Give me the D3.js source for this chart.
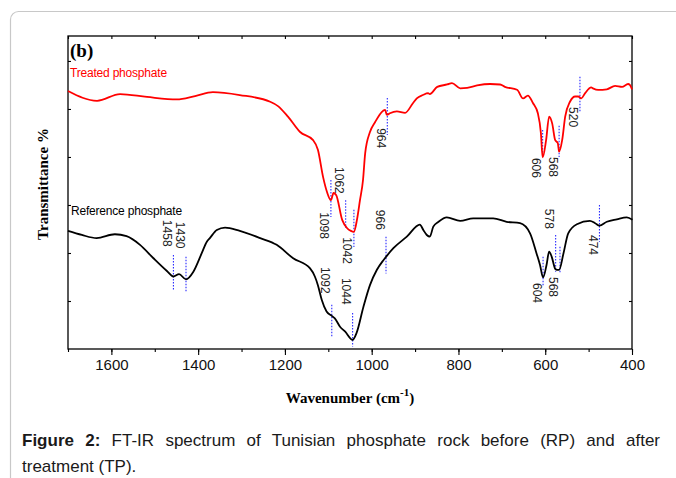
<!DOCTYPE html>
<html>
<head>
<meta charset="utf-8">
<title>FT-IR spectrum</title>
<script src="https://cdn.jsdelivr.net/npm/d3@7/dist/d3.min.js"></script>
<style>
  body { margin: 0; background: #fff; }
  svg { display: block; }
  .tick text { font-family: Arial, "Liberation Sans", sans-serif; }
</style>
</head>
<body>
<svg id="chart" width="676" height="478"></svg>
<script>
// wavenumber (cm-1) and transmittance (arbitrary units, curves offset)
const treatedWavenumber = [1700,1633,1580,1518,1449,1407,1366,1304,1234,1216,1193,1165,1135,1124,1112,1103,1094,1088,1082,1068,1057,1048,1041,1034,1027,1020,1015,1004,992,974,969,965,958,942,923,905,896,882,870,866,849,826,815,796,780,757,727,704,693,665,651,640,628,617,610,606,598,591,584,577,571,568,561,554,543,531,524,517,508,494,490,478,458,439,423,409,405,400];
const treatedTransmittance = [53.75,51.7,53.1,52.5,52.0,52.7,53.5,52.9,51.5,50.6,48.4,45.2,43.5,41.5,35.8,32.7,31.0,32.5,32.1,26.9,25.2,24.6,24.4,26.9,31.0,35.2,40.8,45.2,47.3,49.6,49.8,48.75,49.1,49.5,49.2,51.2,52.2,52.9,53.3,53.1,54.6,55.1,55.4,54.3,54.4,54.9,55.2,55.1,54.6,54.0,52.2,52.8,51.2,49.1,45.0,39.9,43.5,48.4,47.0,43.5,42.9,41.1,43.5,48.4,51.5,52.6,52.6,52.2,53.3,54.5,54.3,53.96,54.1,54.8,54.6,55.2,55.0,54.1];

const referenceWavenumber = [1700,1668,1634,1592,1565,1534,1503,1472,1457,1444,1428,1411,1392,1380,1373,1357,1338,1304,1257,1219,1181,1142,1131,1124,1115,1104,1092,1085,1073,1061,1044,1035,1019,1004,988,973,967,950,919,889,881,873,866,858,846,827,796,766,720,689,658,635,620,612,605,597,591,585,577,573,568,558,547,527,497,485,475,458,435,412,399];
const referenceTransmittance = [24.6,23.75,23.1,23.9,23.5,21.7,18.9,16.25,15.1,15.6,14.5,16.1,19.9,22.35,23.1,24.8,25.3,24.6,23.1,21.7,18.9,16.8,15.1,13.3,10.2,7.8,6.9,6.4,4.65,3.6,1.9,3.3,8.8,13.3,16.5,18.5,19.2,21.0,23.4,25.9,24.8,23.75,23.4,25.5,26.5,27.4,26.7,27.2,27.2,26.5,26.2,24.1,19.9,17.5,14.9,17.5,20.3,19.2,16.7,16.5,16.5,19.9,24.1,26.0,26.7,26.2,25.7,26.5,27.0,27.4,26.9];

// band annotations: label, wavenumber of the dotted line, line extent and label start (transmittance units)
const treatedBands = [
  {label: "1098", wn: 1094, from: 35.2, to: 27.5, text: 28.5},
  {label: "1062", wn: 1060, from: 31.0, to: 25.2, text: 37.9},
  {label: "1042", wn: 1041, from: 29.0, to: 21.25, text: 23.3},
  {label: "964",  wn: 964,  from: 52.3, to: 44.6, text: 46.0},
  {label: "606",  wn: 606,  from: 45.6, to: 40.0, text: 39.8},
  {label: "568",  wn: 568,  from: 46.5, to: 40.0, text: 40.0},
  {label: "520",  wn: 520,  from: 56.7, to: 49.2, text: 50.4}
];
const referenceBands = [
  {label: "1458", wn: 1457, from: 19.6, to: 12.1, text: 26.9},
  {label: "1430", wn: 1428, from: 19.2, to: 11.7, text: 26.5},
  {label: "1092", wn: 1092, from: 9.2,  to: 2.6,  text: 17.1},
  {label: "1044", wn: 1044, from: 7.5,  to: 0.5,  text: 14.8},
  {label: "966",  wn: 967,  from: 23.4, to: 15.75, text: 29.0},
  {label: "604",  wn: 605,  from: 19.2, to: 13.0, text: 13.75},
  {label: "578",  wn: 576,  from: 23.75, to: 16.1, text: 29.2},
  {label: "568",  wn: 566,  from: 21.3, to: 15.75, text: 15.0},
  {label: "474",  wn: 475,  from: 30.0, to: 22.35, text: 23.75}
];

const xTicks = [1600, 1400, 1200, 1000, 800, 600, 400];
const xMinorTicks = d3.range(1700, 399, -100);
const yTicks = [10, 20, 30, 40, 50, 60];

const svg = d3.select("#chart");
const plotLeft = 68, plotRight = 632, plotTop = 36, plotBottom = 349;

// card frame
svg.append("rect")
  .attr("x", 10.5).attr("y", 11.5)
  .attr("width", 700).attr("height", 500)
  .attr("rx", 8)
  .attr("fill", "none")
  .attr("stroke", "#c8c8c8")
  .attr("stroke-width", 1.2);

const x = d3.scaleLinear().domain([1700, 400]).range([plotLeft, plotRight]);
const y = d3.scaleLinear().domain([0, 65.2]).range([plotBottom, plotTop]);

// axes
svg.append("g")
  .attr("transform", `translate(0,${plotBottom})`)
  .call(d3.axisBottom(x).tickValues(xMinorTicks).tickSize(3).tickFormat(""))
  .call(g => g.select(".domain").remove());
svg.append("g")
  .attr("transform", `translate(0,${plotBottom})`)
  .call(d3.axisBottom(x).tickValues(xTicks).tickSize(6).tickPadding(4).tickFormat(d3.format("d")))
  .call(g => g.select(".domain").remove())
  .call(g => g.selectAll("text").attr("font-size", 15).attr("fill", "#111"));
svg.append("g")
  .attr("transform", `translate(0,${plotTop})`)
  .call(d3.axisTop(x).tickValues(xMinorTicks).tickSize(-3).tickFormat(""))
  .call(g => g.select(".domain").remove());
svg.append("g")
  .attr("transform", `translate(${plotLeft},0)`)
  .call(d3.axisLeft(y).tickValues(yTicks).tickSize(-3).tickFormat(""))
  .call(g => g.select(".domain").remove());
svg.append("g")
  .attr("transform", `translate(${plotRight},0)`)
  .call(d3.axisRight(y).tickValues(yTicks).tickSize(-3).tickFormat(""))
  .call(g => g.select(".domain").remove());
svg.selectAll(".tick line").attr("stroke", "#000").attr("stroke-width", 1.1);

svg.append("rect")
  .attr("x", plotLeft).attr("y", plotTop)
  .attr("width", plotRight - plotLeft).attr("height", plotBottom - plotTop)
  .attr("fill", "none")
  .attr("stroke", "#000")
  .attr("stroke-width", 1.3);

// spectra
const line = d3.line()
  .x(d => x(d[0]))
  .y(d => y(d[1]))
  .curve(d3.curveMonotoneX);

function drawBands(bands) {
  const g = svg.append("g");
  g.selectAll("line").data(bands).enter().append("line")
    .attr("x1", d => x(d.wn)).attr("x2", d => x(d.wn))
    .attr("y1", d => y(d.from)).attr("y2", d => y(d.to))
    .attr("stroke", "#2a2aff")
    .attr("stroke-width", 1.1)
    .attr("stroke-dasharray", "1.5,1.5");
  g.selectAll("text").data(bands).enter().append("text")
    .attr("transform", d => `translate(${x(d.wn) - 10.5},${y(d.text)}) rotate(90)`)
    .attr("font-family", "Arial, 'Liberation Sans', sans-serif")
    .attr("font-size", 12)
    .attr("fill", "#222")
    .text(d => d.label);
}

drawBands(treatedBands);
drawBands(referenceBands);

svg.append("path")
  .datum(d3.zip(treatedWavenumber, treatedTransmittance))
  .attr("d", line)
  .attr("fill", "none")
  .attr("stroke", "#ff0000")
  .attr("stroke-width", 1.8);

svg.append("path")
  .datum(d3.zip(referenceWavenumber, referenceTransmittance))
  .attr("d", line)
  .attr("fill", "none")
  .attr("stroke", "#000")
  .attr("stroke-width", 1.8);

// texts
svg.append("text")
  .attr("x", 70).attr("y", 57)
  .attr("font-family", "'Liberation Serif', 'Times New Roman', serif")
  .attr("font-weight", "bold")
  .attr("font-size", 19)
  .text("(b)");

svg.append("text")
  .attr("x", 70).attr("y", 77)
  .attr("font-family", "Arial, 'Liberation Sans', sans-serif")
  .attr("font-size", 12)
  .attr("letter-spacing", -0.2)
  .attr("fill", "#ff0000")
  .text("Treated phosphate");

svg.append("text")
  .attr("x", 71).attr("y", 215)
  .attr("font-family", "Arial, 'Liberation Sans', sans-serif")
  .attr("font-size", 12)
  .attr("letter-spacing", -0.2)
  .attr("fill", "#000")
  .text("Reference phosphate");

svg.append("text")
  .attr("transform", "translate(48,184) rotate(-90)")
  .attr("text-anchor", "middle")
  .attr("font-family", "'Liberation Serif', 'Times New Roman', serif")
  .attr("font-weight", "bold")
  .attr("font-size", 15)
  .text("Transmittance %");

const xl = svg.append("text")
  .attr("x", 350).attr("y", 403)
  .attr("text-anchor", "middle")
  .attr("font-family", "'Liberation Serif', 'Times New Roman', serif")
  .attr("font-weight", "bold")
  .attr("font-size", 15);
xl.append("tspan").text("Wavenumber (cm");
xl.append("tspan").attr("dy", -7).attr("font-size", 11).text("-1");
xl.append("tspan").attr("dy", 7).text(")");

// caption
const cap1 = svg.append("text")
  .attr("x", 22).attr("y", 446)
  .attr("font-family", "Arial, 'Liberation Sans', sans-serif")
  .attr("font-size", 17)
  .attr("fill", "#1a1a1a");
cap1.append("tspan").attr("font-weight", "bold").text("Figure 2:");
cap1.append("tspan").text(" FT-IR spectrum of Tunisian phosphate rock before (RP) and after");
const natural = cap1.node().getComputedTextLength();
const gaps = 11;
cap1.attr("word-spacing", Math.max(0, (638 - natural) / gaps));

svg.append("text")
  .attr("x", 22).attr("y", 472)
  .attr("font-family", "Arial, 'Liberation Sans', sans-serif")
  .attr("font-size", 17)
  .attr("fill", "#1a1a1a")
  .text("treatment (TP).");
</script>
</body>
</html>
